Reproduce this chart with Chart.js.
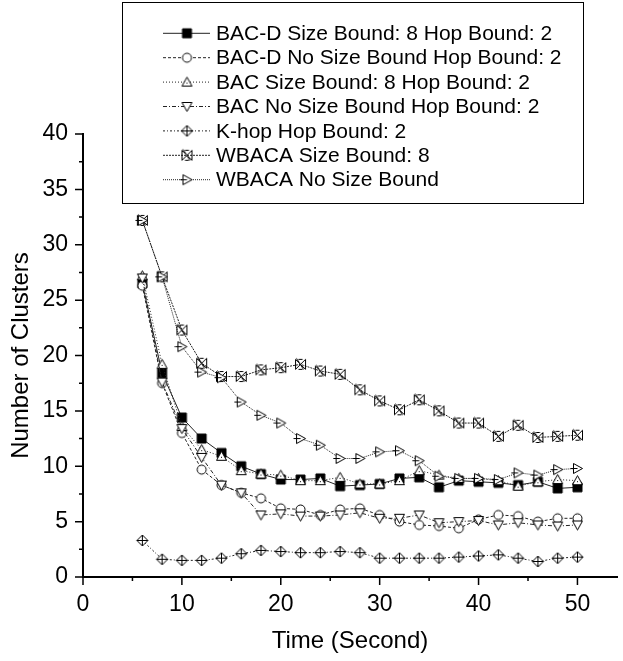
<!DOCTYPE html>
<html>
<head>
<meta charset="utf-8">
<script src="https://cdn.jsdelivr.net/npm/chart.js@4.4.1/dist/chart.umd.min.js"></script>
<style>
  html, body { margin: 0; padding: 0; background: #fff; }
  #wrap { width: 623px; height: 661px; }
</style>
</head>
<body>
<div id="wrap"><canvas id="grafico" width="623" height="661"></canvas></div>
<script>
// dados (tempo em segundos, número de clusters)
const tempos = [6, 8, 10, 12, 14, 16, 18, 20, 22, 24, 26, 28, 30, 32, 34, 36, 38, 40, 42, 44, 46, 48, 50];

const bacdTamanho = [26.5, 18.4, 14.4, 12.5, 11.2, 10.0, 9.3, 8.8, 8.8, 8.9, 8.2, 8.3, 8.4, 8.9, 9.0, 8.1, 8.7, 8.6, 8.5, 8.3, 8.6, 8.0, 8.1];
const bacdSemTamanho = [26.3, 17.5, 13.0, 9.7, 8.3, 7.6, 7.1, 6.2, 6.1, 5.6, 6.1, 6.2, 5.6, 5.0, 4.7, 4.6, 4.4, 5.2, 5.6, 5.5, 5.0, 5.3, 5.3];
const bacTamanho = [27.2, 19.2, 13.6, 11.5, 10.9, 9.6, 9.3, 9.2, 8.7, 8.7, 9.0, 8.4, 8.4, 8.7, 9.6, 9.2, 8.9, 8.9, 8.7, 8.2, 8.6, 8.8, 8.7];
const bacSemTamanho = [27.0, 17.6, 13.4, 10.8, 8.3, 7.6, 5.6, 5.7, 5.5, 5.5, 5.6, 5.8, 5.3, 5.3, 5.6, 4.9, 5.0, 5.1, 4.7, 4.9, 4.7, 4.6, 4.7];
const khop = [3.3, 1.6, 1.5, 1.5, 1.7, 2.1, 2.4, 2.3, 2.2, 2.2, 2.3, 2.2, 1.7, 1.7, 1.7, 1.7, 1.8, 1.9, 2.0, 1.7, 1.4, 1.7, 1.8];
const wbacaTamanho = [32.2, 27.1, 22.3, 19.3, 18.1, 18.1, 18.7, 18.9, 19.2, 18.6, 18.3, 16.9, 15.9, 15.1, 16.0, 15.0, 13.9, 13.9, 12.7, 13.7, 12.6, 12.7, 12.8];
const wbacaSemTamanho = [32.2, 27.1, 20.8, 18.5, 18.0, 15.8, 14.6, 13.9, 12.5, 11.9, 10.7, 10.7, 11.3, 11.4, 10.5, 9.1, 8.9, 8.9, 8.8, 9.4, 9.2, 9.7, 9.8];

const rotulos = [
  'BAC-D Size Bound: 8 Hop Bound: 2',
  'BAC-D No Size Bound Hop Bound: 2',
  'BAC Size Bound: 8 Hop Bound: 2',
  'BAC No Size Bound Hop Bound: 2',
  'K-hop Hop Bound: 2',
  'WBACA Size Bound: 8',
  'WBACA No Size Bound'
];

const xRotulos = [0, 10, 20, 30, 40, 50];
const xMenores = [5, 15, 25, 35, 45];
const yRotulos = [0, 5, 10, 15, 20, 25, 30, 35, 40];
const yMenores = [2.5, 7.5, 12.5, 17.5, 22.5, 27.5, 32.5, 37.5];

const fonte = "'Liberation Sans', Arial, sans-serif";

// desenha os marcadores num canvas pequeno
function marcador(tipo) {
  const c = document.createElement('canvas');
  c.width = 15; c.height = 15;
  const g = c.getContext('2d');
  const m = 7.5;
  g.strokeStyle = '#000';
  g.fillStyle = '#fff';
  g.lineWidth = 1;
  g.beginPath();
  if (tipo === 'quadrado') {
    g.rect(m - 4.5, m - 4.5, 9, 9);
    g.fillStyle = '#000';
    g.fill(); g.stroke();
  } else if (tipo === 'circulo') {
    g.arc(m, m, 4.5, 0, Math.PI * 2);
    g.fill(); g.stroke();
  } else if (tipo === 'triangulo') {
    g.moveTo(m, m - 5); g.lineTo(m + 5, m + 4); g.lineTo(m - 5, m + 4); g.closePath();
    g.fill(); g.stroke();
    g.fillStyle = '#000'; g.fillRect(m - 0.5, m + 0.5, 1, 1);
  } else if (tipo === 'invertido') {
    g.moveTo(m, m + 5); g.lineTo(m + 5, m - 4); g.lineTo(m - 5, m - 4); g.closePath();
    g.fill(); g.stroke();
  } else if (tipo === 'losango') {
    g.moveTo(m, m - 5.5); g.lineTo(m + 5.5, m); g.lineTo(m, m + 5.5); g.lineTo(m - 5.5, m); g.closePath();
    g.fill(); g.stroke();
    g.beginPath();
    g.moveTo(m, m - 5.5); g.lineTo(m, m + 5.5);
    g.moveTo(m - 5.5, m); g.lineTo(m + 5.5, m);
    g.stroke();
  } else if (tipo === 'xcaixa') {
    g.moveTo(m - 5, m - 5); g.lineTo(m + 5, m + 5);
    g.moveTo(m + 5, m - 5); g.lineTo(m - 5, m + 5);
    g.moveTo(m - 5, m - 5); g.lineTo(m - 5, m + 5);
    g.moveTo(m + 5, m - 5); g.lineTo(m + 5, m + 5);
    g.moveTo(m - 2, m - 5); g.lineTo(m + 2, m - 5);
    g.moveTo(m - 2, m + 5); g.lineTo(m + 2, m + 5);
    g.moveTo(m - 4, m - 6); g.lineTo(m + 3, m + 5);
    g.stroke();
  } else if (tipo === 'direita') {
    g.moveTo(m - 4, m - 5); g.lineTo(m + 5, m); g.lineTo(m - 4, m + 5); g.closePath();
    g.fill(); g.stroke();
    g.beginPath();
    g.moveTo(m - 7, m); g.lineTo(m, m);
    g.stroke();
  }
  return c;
}

const estilos = [
  { dados: bacdTamanho, marca: marcador('quadrado'), traco: [] },
  { dados: bacdSemTamanho, marca: marcador('circulo'), traco: [3, 2] },
  { dados: bacTamanho, marca: marcador('triangulo'), traco: [1, 2] },
  { dados: bacSemTamanho, marca: marcador('invertido'), traco: [4, 2, 1, 2] },
  { dados: khop, marca: marcador('losango'), traco: [2, 2, 1, 2] },
  { dados: wbacaTamanho, marca: marcador('xcaixa'), traco: [2, 1] },
  { dados: wbacaSemTamanho, marca: marcador('direita'), traco: [1, 1] }
];

const datasets = estilos.map((e, i) => ({
  label: rotulos[i],
  data: tempos.map((t, k) => ({ x: t, y: e.dados[k] })),
  borderColor: '#222',
  borderWidth: 1,
  borderDash: e.traco,
  pointStyle: e.marca,
  pointRadius: 5,
  pointHoverRadius: 5,
  fill: false,
  tension: 0,
  order: 10 - i
}));

// marcas dos eixos (maiores e menores) desenhadas pela escala
const marcasEixos = {
  id: 'marcasEixos',
  afterDraw(chart) {
    const ctx = chart.ctx;
    const sx = chart.scales.x, sy = chart.scales.y;
    const yBase = sy.getPixelForValue(0);
    const xBase = sx.getPixelForValue(0);
    ctx.save();
    ctx.strokeStyle = '#000';
    ctx.lineWidth = 1.5;
    ctx.beginPath();
    xRotulos.forEach(v => { const p = sx.getPixelForValue(v); ctx.moveTo(p, yBase); ctx.lineTo(p, yBase + 8); });
    xMenores.forEach(v => { const p = sx.getPixelForValue(v); ctx.moveTo(p, yBase); ctx.lineTo(p, yBase + 4); });
    yRotulos.forEach(v => { const p = sy.getPixelForValue(v); ctx.moveTo(xBase, p); ctx.lineTo(xBase - 8, p); });
    yMenores.forEach(v => { const p = sy.getPixelForValue(v); ctx.moveTo(xBase, p); ctx.lineTo(xBase - 4, p); });
    ctx.stroke();
    ctx.restore();
  }
};

// legenda em caixa, no estilo do Origin
const legendaCaixa = {
  id: 'legendaCaixa',
  afterDraw(chart) {
    const ctx = chart.ctx;
    ctx.save();
    ctx.fillStyle = '#fff';
    ctx.fillRect(122.5, 2.5, 461, 201);
    ctx.strokeStyle = '#000';
    ctx.lineWidth = 1;
    ctx.strokeRect(122.5, 2.5, 461, 201);
    ctx.font = '21px ' + fonte;
    ctx.textBaseline = 'middle';
    chart.data.datasets.forEach((ds, i) => {
      const y = 33.3 + i * 24.4;
      ctx.strokeStyle = '#222';
      ctx.lineWidth = 1;
      ctx.setLineDash(ds.borderDash);
      ctx.beginPath();
      ctx.moveTo(163, y); ctx.lineTo(210, y);
      ctx.stroke();
      ctx.setLineDash([]);
      const img = ds.pointStyle;
      ctx.drawImage(img, 187 - img.width / 2, y - img.height / 2);
      ctx.fillStyle = '#000';
      ctx.fillText(ds.label, 216, y + 1);
    });
    ctx.restore();
  }
};

new Chart(document.getElementById('grafico'), {
  type: 'line',
  data: { datasets },
  options: {
    responsive: false,
    animation: false,
    events: [],
    layout: { padding: { top: 134, right: 0, left: 0, bottom: 0 } },
    plugins: { legend: { display: false }, tooltip: { enabled: false } },
    scales: {
      x: {
        type: 'linear',
        min: 0,
        max: 54,
        afterBuildTicks: s => { s.ticks = xRotulos.map(v => ({ value: v })); },
        afterFit: s => { s.height = 84; },
        grid: { display: false, drawTicks: false },
        border: { display: true, color: '#000', width: 2 },
        ticks: { color: '#000', font: { family: fonte, size: 23 }, padding: 14, maxRotation: 0 },
        title: { display: true, text: 'Time (Second)', color: '#000', font: { family: fonte, size: 24 }, padding: { top: 0, bottom: 5 } }
      },
      y: {
        type: 'linear',
        min: 0,
        max: 40,
        afterBuildTicks: s => { s.ticks = yRotulos.map(v => ({ value: v })); },
        afterFit: s => { s.width = 83; },
        grid: { display: false, drawTicks: false },
        border: { display: true, color: '#000', width: 2 },
        ticks: { color: '#000', font: { family: fonte, size: 23 }, padding: 15 },
        title: { display: true, text: 'Number of Clusters', color: '#000', font: { family: fonte, size: 24 }, padding: { top: 7, bottom: 0 } }
      }
    }
  },
  plugins: [marcasEixos, legendaCaixa]
});
</script>
</body>
</html>
